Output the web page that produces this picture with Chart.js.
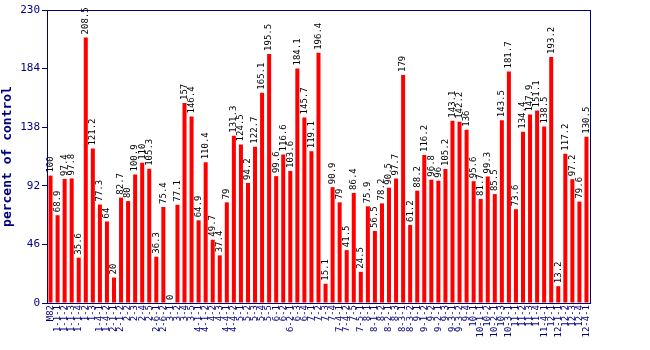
<!DOCTYPE html>
<html><head><meta charset="utf-8">
<script src="https://cdn.jsdelivr.net/npm/chart.js@4/dist/chart.umd.min.js"></script>
<style>html,body{margin:0;padding:0;background:#fff}#wrap{width:650px;height:350px}</style>
</head><body><div id="wrap"><canvas id="c" width="650" height="350"></canvas></div>
<script>
const categories = ["M82","1-1-1","1-1-2","1-1-3","1-1-4","1-2","1-3","1-4-1","1-4-2","2-1-1","2-1-2","2-2","2-3","2-4","2-5","2-6-1","2-6-2","3-1","3-2","3-4","3-5","4-1-1","4-1-2","4-2","4-3","4-4-1","4-4-2","5-1","5-2","5-3","5-4","5-5","6-1","6-2","6-2-1","6-3","6-4","7-1","7-2","7-3","7-4","7-4-1","7-4-2","7-5","7-5-1","8-1","8-1-1","8-2","8-2-1","8-3","8-3-1","8-3-2","9-1","9-1-2","9-2","9-2-1","9-3","9-3-1","9-3-2","9-4","10-1","10-1-1","10-2","10-2-1","10-3","10-3-1","11-1","11-2","11-3","11-4","11-4-1","12-1","12-1-1","12-2","12-3","12-4","12-4-1"];
const values = [100,68.9,97.4,97.8,35.6,208.5,121.2,77.3,64,20,82.7,80,100.9,110,105.3,36.3,75.4,0,77.1,157,146.4,64.9,110.4,49.7,37.4,79,131.3,124.5,94.2,122.7,165.1,195.5,99.6,116.6,103.6,184.1,145.7,119.1,196.4,15.1,90.9,79,41.5,86.4,24.5,75.9,56.5,78.2,90.5,97.7,179,61.2,88.2,116.2,96.8,96,105.2,143.1,142.2,136,95.6,81.7,99.3,85.5,143.5,181.7,73.6,134.4,147.9,151.1,138.5,193.2,13.2,117.2,97.2,79.6,130.5];
const yTicks = [0,46,92,138,184,230];
const yTitle = "percent of control";

const NAVY = '#000080';
const MONO = '"DejaVu Sans Mono", "Liberation Mono", monospace';

const valueLabels = {
  id: 'valueLabels',
  afterDatasetsDraw(chart) {
    const ctx = chart.ctx;
    const meta = chart.getDatasetMeta(0);
    ctx.save();
    ctx.font = '9px ' + MONO;
    ctx.fillStyle = '#000';
    ctx.textAlign = 'left';
    ctx.textBaseline = 'middle';
    meta.data.forEach((bar, i) => {
      ctx.save();
      ctx.translate(bar.x, bar.y - 3);
      ctx.rotate(-Math.PI / 2);
      ctx.fillText(String(values[i]), 0, 0);
      ctx.restore();
    });
    ctx.restore();
  }
};
const frame = {
  id: 'frame',
  afterDraw(chart) {
    const a = chart.chartArea, ctx = chart.ctx;
    ctx.save();
    ctx.strokeStyle = NAVY;
    ctx.lineWidth = 1;
    ctx.strokeRect(Math.round(a.left) + 0.5, Math.round(a.top) + 0.5, Math.round(a.right - a.left), Math.round(a.bottom - a.top));
    ctx.restore();
  }
};

new Chart(document.getElementById('c'), {
  type: 'bar',
  data: { labels: categories, datasets: [{ data: values, backgroundColor: '#ff0000', borderWidth: 0, barPercentage: 0.57, categoryPercentage: 1.0 }] },
  options: {
    responsive: false, animation: false,
    layout: { padding: { left: 0, right: 60, top: 10, bottom: 0 } },
    plugins: { legend: { display: false }, tooltip: { enabled: false } },
    scales: {
      x: {
        grid: { display: false, drawTicks: false },
        border: { color: NAVY, width: 1 },
        ticks: { autoSkip: false, maxRotation: 90, minRotation: 90, color: NAVY, font: { family: MONO, size: 9 }, padding: 2 },
        afterFit(s) { s.height = 47; }
      },
      y: {
        min: 0, max: 230,
        afterBuildTicks(s) { s.ticks = yTicks.map(v => ({ value: v })); },
        grid: { drawOnChartArea: false, drawTicks: true, tickLength: 5, color: NAVY },
        border: { color: NAVY, width: 1 },
        ticks: { color: NAVY, font: { family: MONO, size: 11 }, padding: 2 },
        title: { display: true, text: yTitle, color: NAVY, font: { family: MONO, size: 13, weight: 'bold' }, padding: 0 },
        afterFit(s) { s.width = 47; }
      }
    }
  },
  plugins: [valueLabels, frame]
});
</script></body></html>
